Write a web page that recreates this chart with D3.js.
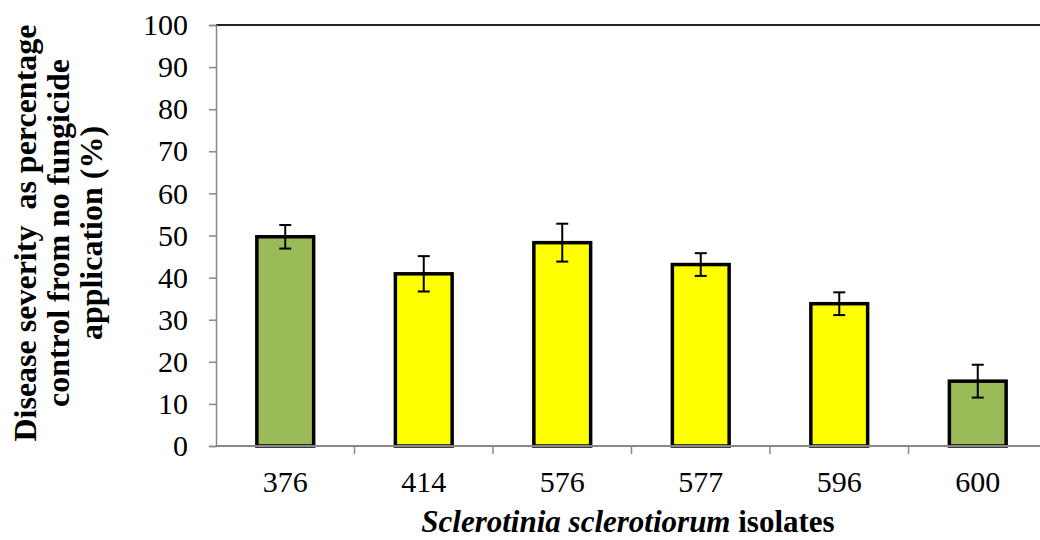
<!DOCTYPE html>
<html>
<head>
<meta charset="utf-8">
<script src="https://cdn.jsdelivr.net/npm/d3@7"></script>
<style>
  body { margin: 0; background: #fff; }
  svg { display: block; font-family: "Liberation Serif", "Times New Roman", serif; }
</style>
</head>
<body>
<svg id="chart"></svg>
<script>
// Data
const isolates = ["376", "414", "576", "577", "596", "600"];
const severity = [49.7, 40.9, 48.3, 43.1, 33.8, 15.4];
const errors = [2.8, 4.2, 4.5, 2.7, 2.7, 3.9];
const barColors = ["#9bbb59", "#ffff00", "#ffff00", "#ffff00", "#ffff00", "#9bbb59"];
const yTicks = [0, 10, 20, 30, 40, 50, 60, 70, 80, 90, 100];

const width = 1040;
const height = 540;
const margin = { top: 25, right: -7, bottom: 94, left: 216 };

const svg = d3.select("#chart")
    .attr("width", width)
    .attr("height", height);

const plotW = width - margin.left - margin.right;
const plotH = height - margin.top - margin.bottom;

const g = svg.append("g")
    .attr("transform", `translate(${margin.left},${margin.top})`);

// Scales
const x = d3.scaleBand()
    .domain(isolates)
    .range([0, plotW])
    .paddingInner(0.59)
    .paddingOuter(0.295);

const xBand = d3.scaleBand()
    .domain(isolates)
    .range([0, plotW]);

const y = d3.scaleLinear()
    .domain([0, 100])
    .range([plotH, 0]);

// Top border line at 100
g.append("line")
    .attr("x1", 0).attr("x2", plotW + 10)
    .attr("y1", y(100)).attr("y2", y(100))
    .attr("stroke", "#222")
    .attr("stroke-width", 2);

// Y axis
const yAxis = g.append("g")
    .call(d3.axisLeft(y).tickValues(yTicks).tickSize(7).tickPadding(21));
yAxis.attr("font-family", null).attr("font-size", null);
yAxis.select(".domain").attr("stroke", "#888").attr("stroke-width", 1.5);
yAxis.selectAll(".tick line").attr("stroke", "#888").attr("stroke-width", 1.5);
yAxis.selectAll(".tick text")
    .style("font-size", "30px")
    .attr("fill", "#000");

// Bars
g.selectAll(".bar")
    .data(isolates)
    .enter()
    .append("rect")
    .attr("class", "bar")
    .attr("x", d => x(d))
    .attr("y", (d, i) => y(severity[i]))
    .attr("width", x.bandwidth())
    .attr("height", (d, i) => y(0) - y(severity[i]))
    .attr("fill", (d, i) => barColors[i])
    .attr("stroke", "#000")
    .attr("stroke-width", 3.5);

// X axis (ticks at category boundaries)
const xAxisG = g.append("g")
    .attr("transform", `translate(0,${plotH})`);
xAxisG.append("line")
    .attr("x1", 0).attr("x2", plotW + 10)
    .attr("stroke", "#888")
    .attr("stroke-width", 2);
xAxisG.selectAll(".xtick")
    .data(isolates.slice(1))
    .enter()
    .append("line")
    .attr("x1", d => xBand(d)).attr("x2", d => xBand(d))
    .attr("y1", 0).attr("y2", 8)
    .attr("stroke", "#888")
    .attr("stroke-width", 1.5);
xAxisG.selectAll(".xlabel")
    .data(isolates)
    .enter()
    .append("text")
    .attr("x", d => x(d) + x.bandwidth() / 2)
    .attr("y", 46)
    .attr("text-anchor", "middle")
    .style("font-size", "30px")
    .text(d => d);

// Error bars
const err = g.append("g");
isolates.forEach((d, i) => {
    const cx = x(d) + x.bandwidth() / 2;
    const hi = y(severity[i] + errors[i]);
    const lo = y(severity[i] - errors[i]);
    err.append("line").attr("x1", cx).attr("x2", cx).attr("y1", hi).attr("y2", lo)
        .attr("stroke", "#000").attr("stroke-width", 2);
    err.append("line").attr("x1", cx - 6).attr("x2", cx + 6).attr("y1", hi).attr("y2", hi)
        .attr("stroke", "#000").attr("stroke-width", 2);
    err.append("line").attr("x1", cx - 6).attr("x2", cx + 6).attr("y1", lo).attr("y2", lo)
        .attr("stroke", "#000").attr("stroke-width", 2);
});

// X axis title
const xt = svg.append("text")
    .attr("x", 628)
    .attr("y", 532)
    .attr("text-anchor", "middle")
    .style("font-size", "31px")
    .attr("font-weight", "bold");
xt.append("tspan").attr("font-style", "italic").text("Sclerotinia sclerotiorum");
xt.append("tspan").text(" isolates");

// Y axis title (three lines)
const yTitle = ["Disease severity  as percentage", "control from no fungicide", "application (%)"];
svg.append("g")
    .attr("transform", "translate(0,233) rotate(-90)")
    .selectAll("text")
    .data(yTitle)
    .enter()
    .append("text")
    .attr("x", 0)
    .attr("y", (d, i) => 36 + i * 33)
    .attr("text-anchor", "middle")
    .style("font-size", "32px")
    .attr("font-weight", "bold")
    .style("white-space", "pre")
    .text(d => d);
</script>
</body>
</html>
